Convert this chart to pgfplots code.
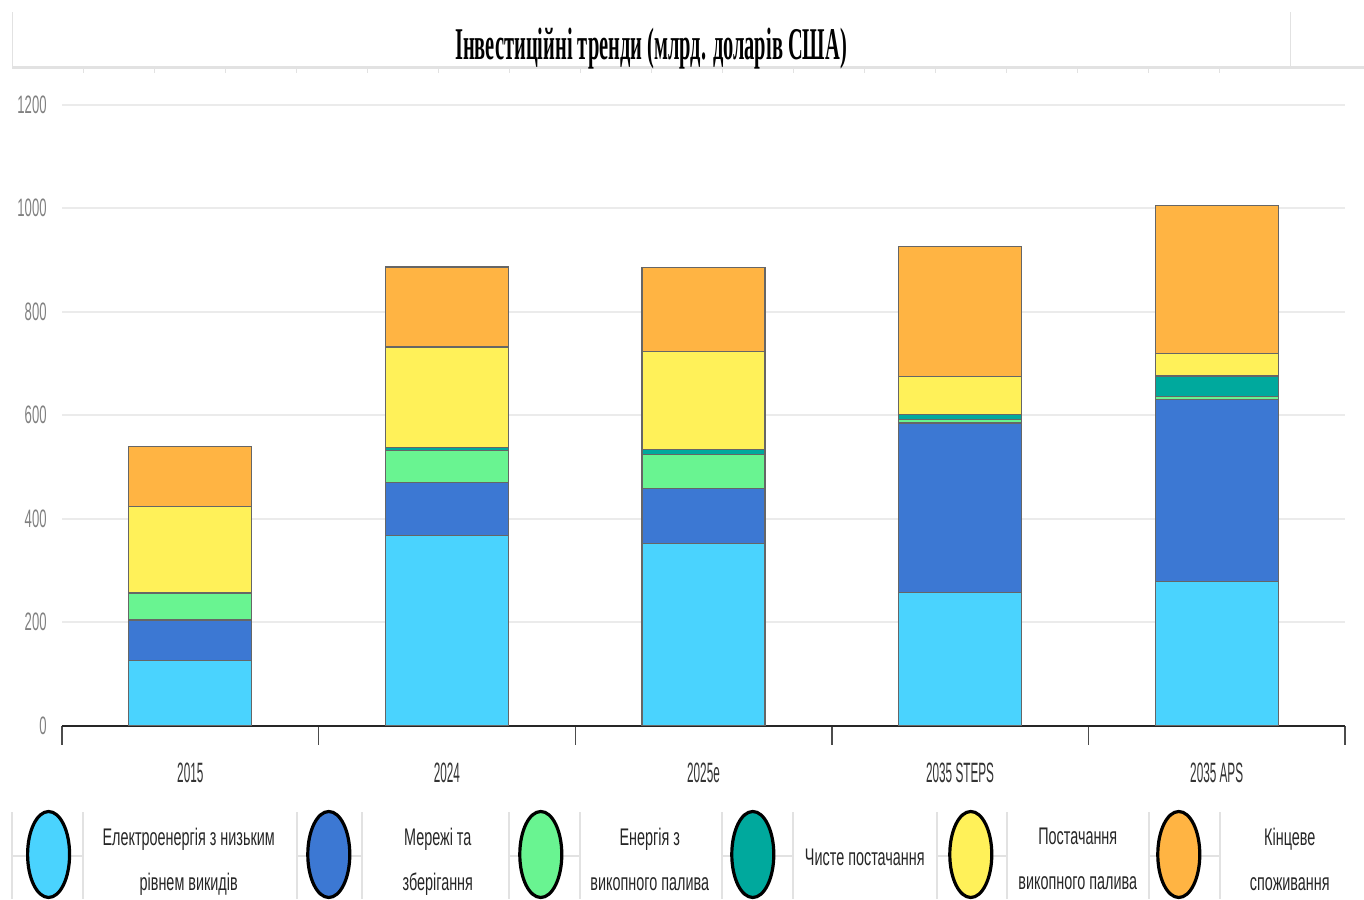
\documentclass[border=0pt]{standalone}
\usepackage{pgfplots}
\pgfplotsset{compat=1.18}
\usepackage{fontspec}
\setmainfont{Liberation Sans}
\newfontfamily\legfont{Liberation Sans}[FakeStretch=0.6]
\newfontfamily\xfont{Liberation Sans}[FakeStretch=0.42]
\newfontfamily\yfont{Liberation Sans}[FakeStretch=0.52]
\newfontfamily\titfont{Liberation Serif}[FakeStretch=0.45]

\definecolor{clow}{HTML}{4AD3FE}
\definecolor{cgrid}{HTML}{3C78D3}
\definecolor{cfos}{HTML}{69F491}
\definecolor{cclean}{HTML}{00A99D}
\definecolor{csup}{HTML}{FFF159}
\definecolor{cend}{HTML}{FFB443}
\definecolor{frame}{HTML}{E2E2E2}

\begin{document}
\begin{tikzpicture}
\useasboundingbox (0,0) rectangle (682pt,-449.5pt);

% frame round the title
\draw[frame, line width=1.5pt] (6pt,-34pt) -- (682pt,-34pt);
\draw[frame, line width=0.5pt] (6pt,-6pt) -- (6pt,-34pt);
\draw[frame, line width=0.5pt] (645pt,-6pt) -- (645pt,-34pt);
\foreach \i in {1,...,17} \draw[frame, line width=0.5pt] (6pt+\i*35.5pt,-34pt) -- ++(0,-2.5pt);
\node[anchor=base, inner sep=0pt] at (325.5pt,-30pt)
  {\titfont\bfseries\fontsize{22.7pt}{26pt}\selectfont Інвестиційні тренди (млрд. доларів США)};

% legend dividers
\foreach \a/\b in {6/41.5, 148.5/181, 254.5/290, 361/396.5, 468.5/503.5, 574.5/610} {
  \draw[frame, line width=0.6pt] (\a pt,-406pt) -- (\a pt,-449.5pt);
  \draw[frame, line width=0.6pt] (\b pt,-406pt) -- (\b pt,-449.5pt);
  \draw[frame, line width=0.6pt] (\a pt,-428pt) -- (\b pt,-428pt);
}

\begin{axis}[
    at={(31pt,-362.75pt)}, anchor=south west,
    scale only axis,
    width=641.5pt, height=310.5pt,
    ybar stacked,
    bar width=0.48,
    xmin=-0.5, xmax=4.5,
    ymin=0, ymax=1200,
    xtick={0,1,2,3,4},
    xticklabels={2015,2024,2025e,2035 STEPS,2035 APS},
    minor xtick={-0.5,0.5,...,4.5},
    ytick={0,200,...,1200},
    axis x line*=bottom,
    axis y line*=left,
    y axis line style={draw=none},
    x axis line style={draw=black!85, line width=1pt, -},
    major tick length=0pt,
    minor tick length=9.5pt,
    tick align=outside,
    minor tick style={draw=black!70, line width=0.7pt},
    ymajorgrids,
    grid style={draw=black!8, line width=1pt},
    /pgf/number format/assume math mode=true,
    /pgf/number format/1000 sep={},
    xticklabel style={font=\xfont\fontsize{14pt}{16pt}\selectfont, text=black!80, anchor=base, inner sep=0pt, yshift=-28.25pt},
    yticklabel style={font=\yfont\fontsize{12.6pt}{14pt}\selectfont, text=black!50, anchor=east, inner sep=0pt, xshift=-7.5pt},
    every axis plot/.append style={draw=black!60, line width=0.6pt},
    legend columns=6,
    legend cell align=center,
    legend style={at={(-0.02806,-0.2077)}, anchor=west, draw=none, fill=none,
      inner sep=0pt, outer sep=0pt,
      nodes={align=flush center, inner sep=0pt, text=black!85,
        font=\legfont\fontsize{12pt}{22.5pt}\selectfont},
      /tikz/every odd column/.append style={column sep=4.2pt},
      /tikz/every even column/.append style={column sep=1.2pt}},
    legend image code/.code={\draw[#1, draw=black, line width=1.6pt]
      (10.5pt,0pt) ellipse [x radius=10.5pt, y radius=21.5pt];},
]
\addplot[fill=clow] coordinates {(0,125) (1,366.5) (2,352) (3,256.5) (4,278)};
\addlegendentry[text width=112.1pt, yshift=8.25pt]{\hspace*{-3pt}Електроенергія з низьким\\\hspace*{-3pt}рівнем викидів}
\addplot[fill=cgrid] coordinates {(0,79) (1,102.5) (2,106) (3,328) (4,352)};
\addlegendentry[text width=78pt, yshift=8.25pt]{Мережі та\\зберігання}
\addplot[fill=cfos] coordinates {(0,51) (1,62) (2,66) (3,6.5) (4,5)};
\addlegendentry[text width=78pt, yshift=8.25pt]{Енергія з\\викопного палива}
\addplot[fill=cclean] coordinates {(0,1.5) (1,6.5) (2,9) (3,10) (4,40.5)};
\addlegendentry[text width=81pt, yshift=-2pt]{Чисте постачання}
\addplot[fill=csup] coordinates {(0,166) (1,194) (2,190) (3,74) (4,44)};
\addlegendentry[text width=76pt, yshift=8.25pt]{Постачання\\викопного палива}
\addplot[fill=cend] coordinates {(0,117) (1,154.5) (2,162) (3,250.5) (4,286)};
\addlegendentry[text width=80pt, yshift=8.25pt]{Кінцеве\\споживання}
\end{axis}
\end{tikzpicture}
\end{document}
